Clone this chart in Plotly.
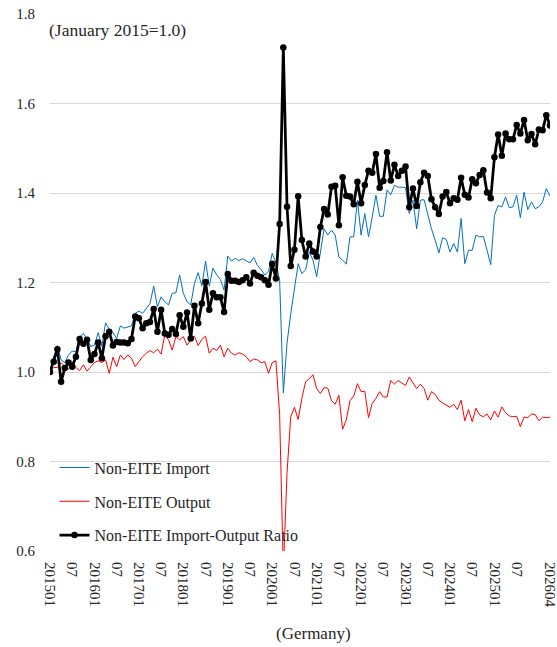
import plotly.graph_objects as go

# Monthly index values, January 2015 = 1.0 (201501 .. 202604)
MONTHS = [f"{y}{m:02d}" for y in range(2015, 2027) for m in range(1, 13)][:136]

IMPORT = [
    1.001, 1.034, 1.059, 1.027, 1.021, 1.038, 1.047, 1.045, 1.079, 1.086, 1.073, 1.057,  # 2015
    1.060, 1.088, 1.057, 1.110, 1.095, 1.088, 1.075, 1.103, 1.098, 1.101, 1.103, 1.131,  # 2016
    1.136, 1.131, 1.142, 1.153, 1.192, 1.146, 1.168, 1.157, 1.150, 1.176, 1.177, 1.217,  # 2017
    1.176, 1.157, 1.150, 1.198, 1.222, 1.192, 1.248, 1.192, 1.232, 1.217, 1.207, 1.183,  # 2018
    1.259, 1.248, 1.254, 1.249, 1.253, 1.249, 1.244, 1.256, 1.238, 1.229, 1.217, 1.225,  # 2019
    1.265, 1.245, 1.205, 0.953, 1.065, 1.130, 1.190, 1.242, 1.220, 1.228, 1.268, 1.250,  # 2020
    1.213, 1.268, 1.320, 1.306, 1.317, 1.306, 1.257, 1.250, 1.241, 1.302, 1.302, 1.384,  # 2021
    1.306, 1.354, 1.302, 1.346, 1.395, 1.348, 1.348, 1.407, 1.396, 1.417, 1.413, 1.413,  # 2022
    1.412, 1.354, 1.384, 1.320, 1.384, 1.385, 1.350, 1.320, 1.294, 1.266, 1.300, 1.296,  # 2023
    1.268, 1.287, 1.268, 1.343, 1.242, 1.272, 1.272, 1.306, 1.302, 1.303, 1.272, 1.240,  # 2024
    1.350, 1.372, 1.369, 1.391, 1.367, 1.369, 1.395, 1.345, 1.402, 1.363, 1.380, 1.365,  # 2025
    1.369, 1.380, 1.410, 1.393,                                                          # 2026
]

OUTPUT = [
    1.000, 1.010, 1.010, 1.021, 1.012, 1.006, 1.023, 1.010, 1.003, 1.016, 1.002, 1.012,  # 2015
    1.021, 1.025, 1.021, 1.027, 0.997, 1.033, 1.012, 1.038, 1.028, 1.038, 1.031, 1.012,  # 2016
    1.023, 1.034, 1.042, 1.048, 1.043, 1.051, 1.040, 1.083, 1.072, 1.049, 1.079, 1.072,  # 2017
    1.079, 1.060, 1.073, 1.080, 1.059, 1.073, 1.080, 1.042, 1.053, 1.048, 1.060, 1.034,  # 2018
    1.053, 1.042, 1.038, 1.043, 1.040, 1.034, 1.023, 1.029, 1.027, 1.021, 1.023, 0.997,  # 2019
    1.021, 1.025, 0.905, 0.553, 0.775, 0.900, 0.921, 0.894, 0.941, 0.978, 0.985, 0.994,  # 2020
    0.963, 0.952, 0.965, 0.964, 0.936, 0.928, 0.948, 0.872, 0.893, 0.936, 0.946, 0.974,  # 2021
    0.956, 0.957, 0.898, 0.930, 0.941, 0.956, 0.944, 0.944, 0.981, 0.973, 0.981, 0.976,  # 2022
    0.970, 0.989, 0.976, 0.963, 0.973, 0.963, 0.937, 0.956, 0.950, 0.937, 0.931, 0.926,  # 2023
    0.921, 0.928, 0.916, 0.937, 0.891, 0.916, 0.889, 0.919, 0.904, 0.900, 0.906, 0.893,  # 2024
    0.913, 0.899, 0.922, 0.909, 0.902, 0.900, 0.901, 0.878, 0.899, 0.898, 0.906, 0.905,  # 2025
    0.891, 0.899, 0.898, 0.899,                                                          # 2026
]

RATIO = [
    1.000, 1.023, 1.051, 0.978, 1.009, 1.021, 1.012, 1.034, 1.074, 1.063, 1.072, 1.027,  # 2015
    1.040, 1.066, 1.031, 1.080, 1.090, 1.059, 1.067, 1.066, 1.066, 1.064, 1.074, 1.124,  # 2016
    1.120, 1.098, 1.109, 1.112, 1.141, 1.090, 1.139, 1.086, 1.083, 1.096, 1.085, 1.127,  # 2017
    1.101, 1.133, 1.075, 1.148, 1.109, 1.153, 1.201, 1.139, 1.176, 1.167, 1.167, 1.134,  # 2018
    1.219, 1.204, 1.204, 1.201, 1.205, 1.212, 1.198, 1.222, 1.215, 1.212, 1.205, 1.195,  # 2019
    1.242, 1.209, 1.331, 1.725, 1.369, 1.237, 1.273, 1.393, 1.295, 1.258, 1.287, 1.269,  # 2020
    1.258, 1.324, 1.364, 1.352, 1.414, 1.416, 1.328, 1.435, 1.394, 1.392, 1.375, 1.425,  # 2021
    1.377, 1.418, 1.450, 1.445, 1.487, 1.412, 1.427, 1.491, 1.428, 1.463, 1.438, 1.450,  # 2022
    1.459, 1.368, 1.410, 1.371, 1.424, 1.445, 1.438, 1.386, 1.368, 1.353, 1.392, 1.402,  # 2023
    1.377, 1.388, 1.385, 1.434, 1.396, 1.390, 1.431, 1.422, 1.440, 1.451, 1.401, 1.388,  # 2024
    1.480, 1.531, 1.483, 1.533, 1.520, 1.520, 1.552, 1.533, 1.563, 1.518, 1.532, 1.509,  # 2025
    1.542, 1.540, 1.574, 1.551,                                                          # 2026
]

TICK_MONTHS = ["201501", "201507", "201601", "201607", "201701", "201707",
               "201801", "201807", "201901", "201907", "202001", "202007",
               "202101", "202107", "202201", "202207", "202301", "202307",
               "202401", "202407", "202501", "202507", "202604"]
TICK_TEXT = ["201501", "07", "201601", "07", "201701", "07",
             "201801", "07", "201901", "07", "202001", "07",
             "202101", "07", "202201", "07", "202301", "07",
             "202401", "07", "202501", "07", "202604"]

SERIF = "Liberation Serif"
TEXT = "#262626"
GRID = "#d9d9d9"

fig = go.Figure()
fig.add_trace(go.Scatter(
    x=MONTHS, y=IMPORT, name="Non-EITE Import", mode="lines",
    line=dict(color="#0070C0", width=1), legendgroup="a",
))
fig.add_trace(go.Scatter(
    x=MONTHS, y=OUTPUT, name="Non-EITE Output", mode="lines",
    line=dict(color="#FF0000", width=1), legendgroup="b",
))
fig.add_trace(go.Scatter(
    x=MONTHS, y=RATIO, name="Non-EITE Import-Output Ratio", mode="lines+markers",
    line=dict(color="#000000", width=2.75),
    marker=dict(color="#000000", size=6.5, symbol="circle"), legendgroup="c",
))

fig.update_layout(
    width=557, height=647,
    margin=dict(l=50, r=7, t=14, b=96),
    paper_bgcolor="white", plot_bgcolor="white",
    font=dict(family=SERIF, size=15, color=TEXT),
    showlegend=True,
    legend=dict(
        x=0.009, y=0.187, xanchor="left", yanchor="top",
        bgcolor="rgba(0,0,0,0)", font=dict(family=SERIF, size=16, color=TEXT),
        tracegroupgap=10, itemwidth=30,
    ),
    xaxis=dict(
        type="category", range=[0, 135], automargin=False,
        tickmode="array", tickvals=TICK_MONTHS, ticktext=TICK_TEXT,
        tickangle=90, showgrid=False, zeroline=False, showline=False,
        ticks="", ticklen=0, ticklabelstandoff=10,
        tickfont=dict(family=SERIF, size=15, color=TEXT),
        title=None,
    ),
    yaxis=dict(
        range=[0.6, 1.8], tickmode="array", automargin=False,
        tickvals=[0.6, 0.8, 1.0, 1.2, 1.4, 1.6, 1.8],
        ticktext=["0.6", "0.8", "1.0", "1.2", "1.4", "1.6", "1.8"],
        showgrid=True, gridcolor=GRID, gridwidth=1.3,
        zeroline=False, showline=False, ticks="",
        tickfont=dict(family=SERIF, size=15, color=TEXT), ticklabelstandoff=14,
    ),
    annotations=[
        dict(text="(January 2015=1.0)", xref="paper", yref="paper",
             x=-0.006, y=0.993, xanchor="left", yanchor="top", showarrow=False,
             font=dict(family=SERIF, size=17.5, color=TEXT)),
        dict(text="(Germany)", xref="paper", yref="paper",
             x=0.526, y=-0.153, xanchor="center", yanchor="middle", showarrow=False,
             font=dict(family=SERIF, size=17, color=TEXT)),
    ],
)

fig.write_html("out.html")
